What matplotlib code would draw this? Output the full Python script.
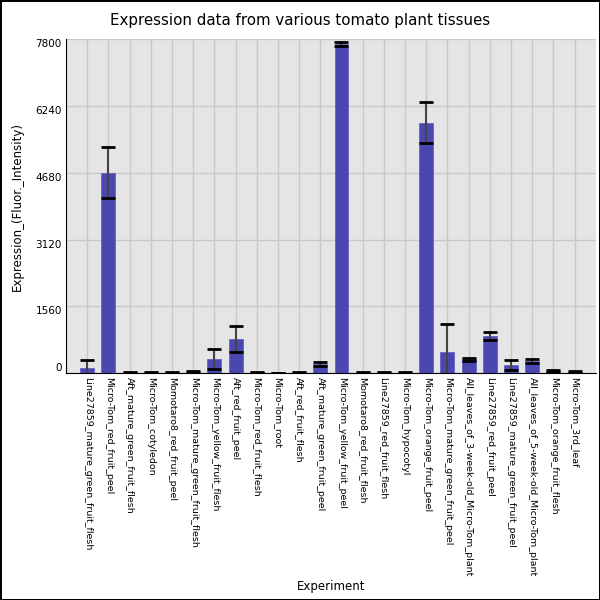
import matplotlib
matplotlib.use("Agg")
import matplotlib.pyplot as plt

experiments = [
    "Line27859_mature_green_fruit_flesh",
    "Micro-Tom_red_fruit_peel",
    "Aft_mature_green_fruit_flesh",
    "Micro-Tom_cotyledon",
    "Momotaro8_red_fruit_peel",
    "Micro-Tom_mature_green_fruit_flesh",
    "Micro-Tom_yellow_fruit_flesh",
    "Aft_red_fruit_peel",
    "Micro-Tom_red_fruit_flesh",
    "Micro-Tom_root",
    "Aft_red_fruit_flesh",
    "Aft_mature_green_fruit_peel",
    "Micro-Tom_yellow_fruit_peel",
    "Momotaro8_red_fruit_flesh",
    "Line27859_red_fruit_flesh",
    "Micro-Tom_hypocotyl",
    "Micro-Tom_orange_fruit_peel",
    "Micro-Tom_mature_green_fruit_peel",
    "All_leaves_of_3-week-old_Micro-Tom_plant",
    "Line27859_red_fruit_peel",
    "Line27859_mature_green_fruit_peel",
    "All_leaves_of_5-week-old_Micro-Tom_plant",
    "Micro-Tom_orange_fruit_flesh",
    "Micro-Tom_3rd_leaf",
]
expression = [117, 4680, 15, 15, 20, 30, 325, 795, 25, 8, 12, 215,
              7683, 25, 12, 15, 5845, 506, 320, 870, 190, 280, 45, 31]
errors = [195, 590, 10, 10, 10, 20, 235, 305, 10, 5, 8, 47,
          58, 10, 8, 10, 480, 647, 35, 100, 125, 50, 25, 15]
yticks = [0, 1560, 3120, 4680, 6240, 7800]

fig = plt.figure(figsize=(6, 6), dpi=100)
fig.patch.set_edgecolor("black")
fig.patch.set_linewidth(1)
ax = fig.add_axes([0.11, 0.378, 0.883, 0.557])
ax.set_facecolor("#e5e5e5")
ax.set_axisbelow(True)
ax.grid(True, color="#c8c8c8", linewidth=1)

x = list(range(len(experiments)))
ax.bar(x, expression, width=0.66, color="#4a46b2", edgecolor="#6763c4", linewidth=0.6)
eb = ax.errorbar(x, expression, yerr=errors, fmt="none", ecolor="#444444",
                 elinewidth=1.5, capsize=4.7, capthick=2)
# caps black, stems grey
for cap in eb.lines[1]:
    cap.set_markeredgecolor("black")

ax.set_xlim(-1, 24)
ax.set_ylim(0, 7800)
ax.set_yticks(yticks)
ax.set_yticklabels([str(v) for v in yticks], fontsize=7.5)
for lab, v in zip(ax.get_yticklabels(), yticks):
    lab.set_va("bottom" if v == 0 else "top")
ax.set_xticks(x)
ax.set_xticklabels(experiments, rotation=270, fontsize=6.8, va="top", ha="center")
ax.tick_params(axis="both", length=0, pad=3)

for side in ["top", "right"]:
    ax.spines[side].set_visible(False)
ax.spines["left"].set_color("black")
ax.spines["bottom"].set_color("black")

fig.text(0.5, 0.966, "Expression data from various tomato plant tissues",
         fontsize=10.8, ha="center", va="center")
ax.set_ylabel("Expression_(Fluor._Intensity)", fontsize=8.5)
ax.yaxis.set_label_coords(-0.08, 0.5)
ax.set_xlabel("Experiment", fontsize=8.5)
ax.xaxis.set_label_coords(0.5, -0.62)

fig.savefig("out.png", dpi=100)
